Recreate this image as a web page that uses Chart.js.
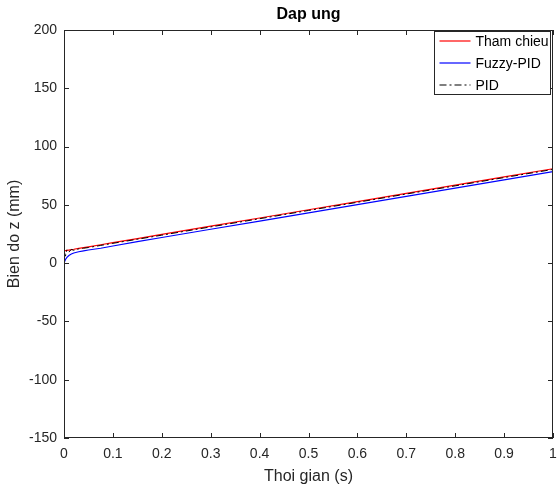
<!DOCTYPE html>
<html>
<head>
<meta charset="utf-8">
<script src="https://cdn.jsdelivr.net/npm/chart.js@4.4.0/dist/chart.umd.min.js"></script>
<style>
    html, body { margin: 0; padding: 0; background: #fff; }
    #wrap { width: 559px; height: 488px; }
</style>
</head>
<body>
<div id="wrap"><canvas id="responseChart" width="559" height="488"></canvas></div>
<script>
// Data
const timeValues = [0, 0.003, 0.006, 0.01, 0.015, 0.02, 0.03, 0.04, 0.05, 0.075, 0.1, 0.15, 0.2, 0.3, 0.4, 0.5, 0.6, 0.7, 0.8, 0.9, 1];
const thamChieu = [10.5, 10.7, 10.9, 11.2, 11.6, 11.9, 12.6, 13.3, 14.0, 15.8, 17.6, 21.1, 24.6, 31.7, 38.7, 45.8, 52.8, 59.9, 66.9, 74.0, 81.0];
const fuzzyPid = [0, 3.2, 5.0, 6.6, 7.8, 8.7, 9.8, 10.6, 11.3, 12.8, 14.7, 18.5, 22.0, 29.1, 36.1, 43.2, 50.2, 57.3, 64.3, 71.4, 78.6];
const pid = [10.5, 6.0, 11.5, 9.5, 11.8, 11.0, 12.2, 12.8, 13.4, 15.2, 17.0, 20.5, 24.0, 31.1, 38.1, 45.2, 52.2, 59.3, 66.3, 73.4, 80.4];

const seriesNames = ['Tham chieu', 'Fuzzy-PID', 'PID'];
const xTicks = [0, 0.1, 0.2, 0.3, 0.4, 0.5, 0.6, 0.7, 0.8, 0.9, 1];
const yTicks = [-150, -100, -50, 0, 50, 100, 150, 200];

const FONT = 'Arial, "Liberation Sans", Helvetica, sans-serif';

function toPoints(ys) {
    return timeValues.map((t, i) => ({ x: t, y: ys[i] }));
}

// MATLAB style frame: box, inward ticks on all sides, title and legend inside
const matlabFrame = {
    id: 'matlabFrame',
    afterDraw(chart) {
        const ctx = chart.ctx;
        const area = chart.chartArea;
        const xs = chart.scales.x;
        const ys = chart.scales.y;
        const tickLen = 5;

        ctx.save();
        ctx.strokeStyle = '#262626';
        ctx.lineWidth = 1;
        ctx.strokeRect(Math.round(area.left) + 0.5, Math.round(area.top) + 0.5,
            Math.round(area.right - area.left) - 1, Math.round(area.bottom - area.top) - 1);

        ctx.beginPath();
        xTicks.forEach(v => {
            const px = Math.round(xs.getPixelForValue(v)) + 0.5;
            ctx.moveTo(px, area.bottom);
            ctx.lineTo(px, area.bottom - tickLen);
            ctx.moveTo(px, area.top);
            ctx.lineTo(px, area.top + tickLen);
        });
        yTicks.forEach(v => {
            const py = Math.round(ys.getPixelForValue(v)) + 0.5;
            ctx.moveTo(area.left, py);
            ctx.lineTo(area.left + tickLen, py);
            ctx.moveTo(area.right, py);
            ctx.lineTo(area.right - tickLen, py);
        });
        ctx.stroke();

        // title
        ctx.fillStyle = '#000';
        ctx.font = 'bold 16px ' + FONT;
        ctx.textAlign = 'center';
        ctx.textBaseline = 'middle';
        ctx.fillText('Dap ung', (area.left + area.right) / 2, 15);

        // legend box
        const boxW = 116, boxH = 63;
        const bx = Math.round(area.right) - boxW - 2.5;
        const by = Math.round(area.top) + 1.5;
        ctx.fillStyle = '#fff';
        ctx.fillRect(bx, by, boxW, boxH);
        ctx.strokeStyle = '#262626';
        ctx.strokeRect(bx, by, boxW, boxH);

        ctx.font = '14px ' + FONT;
        ctx.textAlign = 'left';
        chart.data.datasets.forEach((ds, i) => {
            const cy = by + 10 + i * 22;
            ctx.strokeStyle = ds.borderColor;
            ctx.lineWidth = 1.2;
            ctx.setLineDash(ds.borderDash || []);
            ctx.beginPath();
            ctx.moveTo(bx + 5, cy - 0.5);
            ctx.lineTo(bx + 36, cy - 0.5);
            ctx.stroke();
            ctx.setLineDash([]);
            ctx.fillStyle = '#000';
            ctx.fillText(ds.label, bx + 41, cy + 1);
        });
        ctx.restore();
    }
};

const ctx = document.getElementById('responseChart');
new Chart(ctx, {
    type: 'line',
    data: {
        datasets: [
            {
                label: seriesNames[0],
                data: toPoints(thamChieu),
                borderColor: '#ff0000',
                borderWidth: 1.2,
                order: 3
            },
            {
                label: seriesNames[1],
                data: toPoints(fuzzyPid),
                borderColor: '#0000ff',
                borderWidth: 1.2,
                order: 2
            },
            {
                label: seriesNames[2],
                data: toPoints(pid),
                borderColor: '#000000',
                borderWidth: 1,
                borderDash: [7, 3, 2, 3],
                order: 1
            }
        ]
    },
    options: {
        responsive: false,
        animation: false,
        events: [],
        layout: { padding: { top: 30, right: 6, left: 0, bottom: 0 } },
        elements: {
            point: { radius: 0 },
            line: { tension: 0, fill: false }
        },
        plugins: {
            legend: { display: false },
            title: { display: false },
            tooltip: { enabled: false }
        },
        scales: {
            x: {
                type: 'linear',
                min: 0,
                max: 1,
                afterFit: scale => {
                    scale.height = 50;
                    scale.paddingLeft = 0;
                    scale.paddingRight = 0;
                },
                afterBuildTicks: scale => { scale.ticks = xTicks.map(v => ({ value: v })); },
                grid: { display: false, drawTicks: false },
                border: { display: false },
                ticks: {
                    padding: 8,
                    color: '#262626',
                    font: { family: FONT, size: 14 },
                    maxRotation: 0,
                    autoSkip: false,
                    callback: v => String(+v.toFixed(1))
                },
                title: {
                    display: true,
                    text: 'Thoi gian (s)',
                    color: '#262626',
                    font: { family: FONT, size: 16 },
                    padding: { top: 0, bottom: 2 }
                }
            },
            y: {
                type: 'linear',
                min: -150,
                max: 200,
                afterFit: scale => {
                    scale.width = 64;
                    scale.paddingTop = 0;
                    scale.paddingBottom = 0;
                },
                afterBuildTicks: scale => { scale.ticks = yTicks.map(v => ({ value: v })); },
                grid: { display: false, drawTicks: false },
                border: { display: false },
                ticks: {
                    padding: 7,
                    color: '#262626',
                    font: { family: FONT, size: 14 },
                    autoSkip: false
                },
                title: {
                    display: true,
                    text: 'Bien do z (mm)',
                    color: '#262626',
                    font: { family: FONT, size: 16 },
                    padding: { top: 5, bottom: 0 }
                }
            }
        }
    },
    plugins: [matlabFrame]
});
</script>
</body>
</html>
